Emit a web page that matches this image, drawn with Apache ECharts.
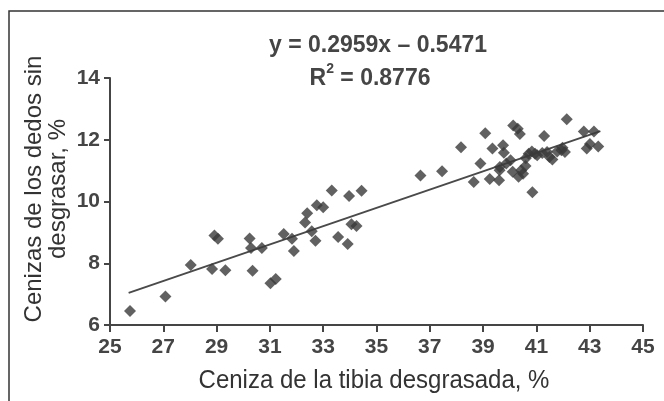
<!DOCTYPE html>
<html><head><meta charset="utf-8">
<script src="https://cdn.jsdelivr.net/npm/echarts@6/dist/echarts.min.js"></script>
<style>html,body{margin:0;padding:0;background:#fff}#c{width:664px;height:401px}</style>
</head><body><div id="c"></div>
<script>
var xTicks = [25, 27, 29, 31, 33, 35, 37, 39, 41, 43, 45];
var yTicks = [6, 8, 10, 12, 14];
var tibia = [25.75,27.08,28.03,28.83,29.33,28.92,29.05,30.24,30.29,30.70,30.35,31.02,31.22,31.52,31.83,31.90,32.32,32.40,32.57,32.71,32.76,33.00,33.32,33.56,33.92,33.97,34.06,34.25,34.44,36.65,37.46,38.17,38.65,38.90,39.08,39.25,39.35,39.60,39.62,39.75,39.78,39.87,40.03,40.11,40.13,40.30,40.38,40.33,40.43,40.59,40.71,40.83,40.85,41.03,41.22,41.29,41.49,41.60,41.78,41.98,42.07,42.14,42.78,43.16,43.01,43.32,42.89,41.94,40.50,39.63,40.60,41.40,40.95];
var dedos = [6.45,6.92,7.94,7.81,7.77,8.90,8.79,8.80,8.49,8.49,7.76,7.35,7.49,8.95,8.79,8.40,9.32,9.62,9.04,8.73,9.88,9.81,10.36,8.85,8.62,10.18,9.26,9.21,10.35,10.84,10.98,11.76,10.63,11.23,12.21,10.73,11.72,10.69,11.01,11.82,11.58,11.23,11.34,10.96,12.46,12.36,12.19,10.80,11.01,11.15,11.55,11.62,10.30,11.50,11.57,12.12,11.44,11.36,11.62,11.74,11.60,12.66,12.27,12.27,11.86,11.78,11.72,11.66,10.90,11.12,11.40,11.60,11.55];
var trendX = [25.7, 43.4];
var trendY = [7.04, 12.28];
var eqText = 'y = 0.2959x \u2013 0.5471';
var r2Value = '0.8776';

var pts = tibia.map(function(x,i){return [x, dedos[i]];});
var trend = trendX.map(function(x,i){return [x, trendY[i]];});
var narrow = '"Liberation Sans Narrow","Arial Narrow","Liberation Sans",Arial,sans-serif';
var sans = '"Liberation Sans",Arial,sans-serif';
var ink = '#454545';

var chart = echarts.init(document.getElementById('c'), null, {renderer:'canvas'});
chart.setOption({
  animation:false,
  backgroundColor:'#fff',
  grid:{left:110, top:78, right:21, bottom:76, containLabel:false},
  xAxis:{type:'value', min:25, max:45, interval:2,
    axisLine:{lineStyle:{color:ink, width:2}},
    axisTick:{show:true, length:7, lineStyle:{color:ink, width:2}},
    axisLabel:{color:ink, fontFamily:narrow, fontWeight:'bold', fontSize:21, margin:12,
      formatter:function(v){return xTicks.indexOf(v)>=0 ? String(v) : '';}},
    splitLine:{show:false}},
  yAxis:{type:'value', min:6, max:14, interval:2,
    axisLine:{show:true, lineStyle:{color:ink, width:2}},
    axisTick:{show:true, length:6, lineStyle:{color:ink, width:2}},
    axisLabel:{color:ink, fontFamily:narrow, fontWeight:'bold', fontSize:21, margin:10,
      formatter:function(v){return yTicks.indexOf(v)>=0 ? String(v) : '';}},
    splitLine:{show:false}},
  series:[
    {type:'scatter', data:pts, symbol:'diamond', symbolSize:12,
      itemStyle:{color:'#3a3a3a'}, z:3},
    {type:'line', data:trend, symbol:'none', lineStyle:{color:'#4a4a4a', width:2}, z:2}
  ],
  graphic:[
    {type:'rect', shape:{x:9, y:11, width:700, height:420}, style:{fill:'none', stroke:'#333', lineWidth:1.5}, silent:true},
    {type:'text', x:378, y:45, scaleY:1.05, style:{text:eqText, fill:ink, font:'bold 23px '+narrow, align:'center', verticalAlign:'middle'}},
    {type:'text', x:370, y:76, scaleY:1.05, style:{text:'{b|R}{s|2}{b| = '+r2Value+'}', fill:ink, align:'center', verticalAlign:'middle',
      rich:{b:{fontSize:23, fontWeight:'bold', fontFamily:narrow, fill:ink, color:ink, lineHeight:28, verticalAlign:'bottom'},
            s:{fontSize:14, fontWeight:'bold', fontFamily:narrow, fill:ink, color:ink, lineHeight:14, verticalAlign:'top'}}}},
    {type:'text', x:374, y:381, scaleY:1.06, style:{text:'Ceniza de la tibia desgrasada, %', fill:'#333', font:'24px '+sans, align:'center', verticalAlign:'middle'}},
    {type:'text', x:46, y:189, rotation:Math.PI/2, style:{text:'Cenizas de los dedos sin\ndesgrasar, %', fill:'#333', font:'24px '+sans, lineHeight:24, align:'center', verticalAlign:'middle'}}
  ]
});
</script></body></html>
